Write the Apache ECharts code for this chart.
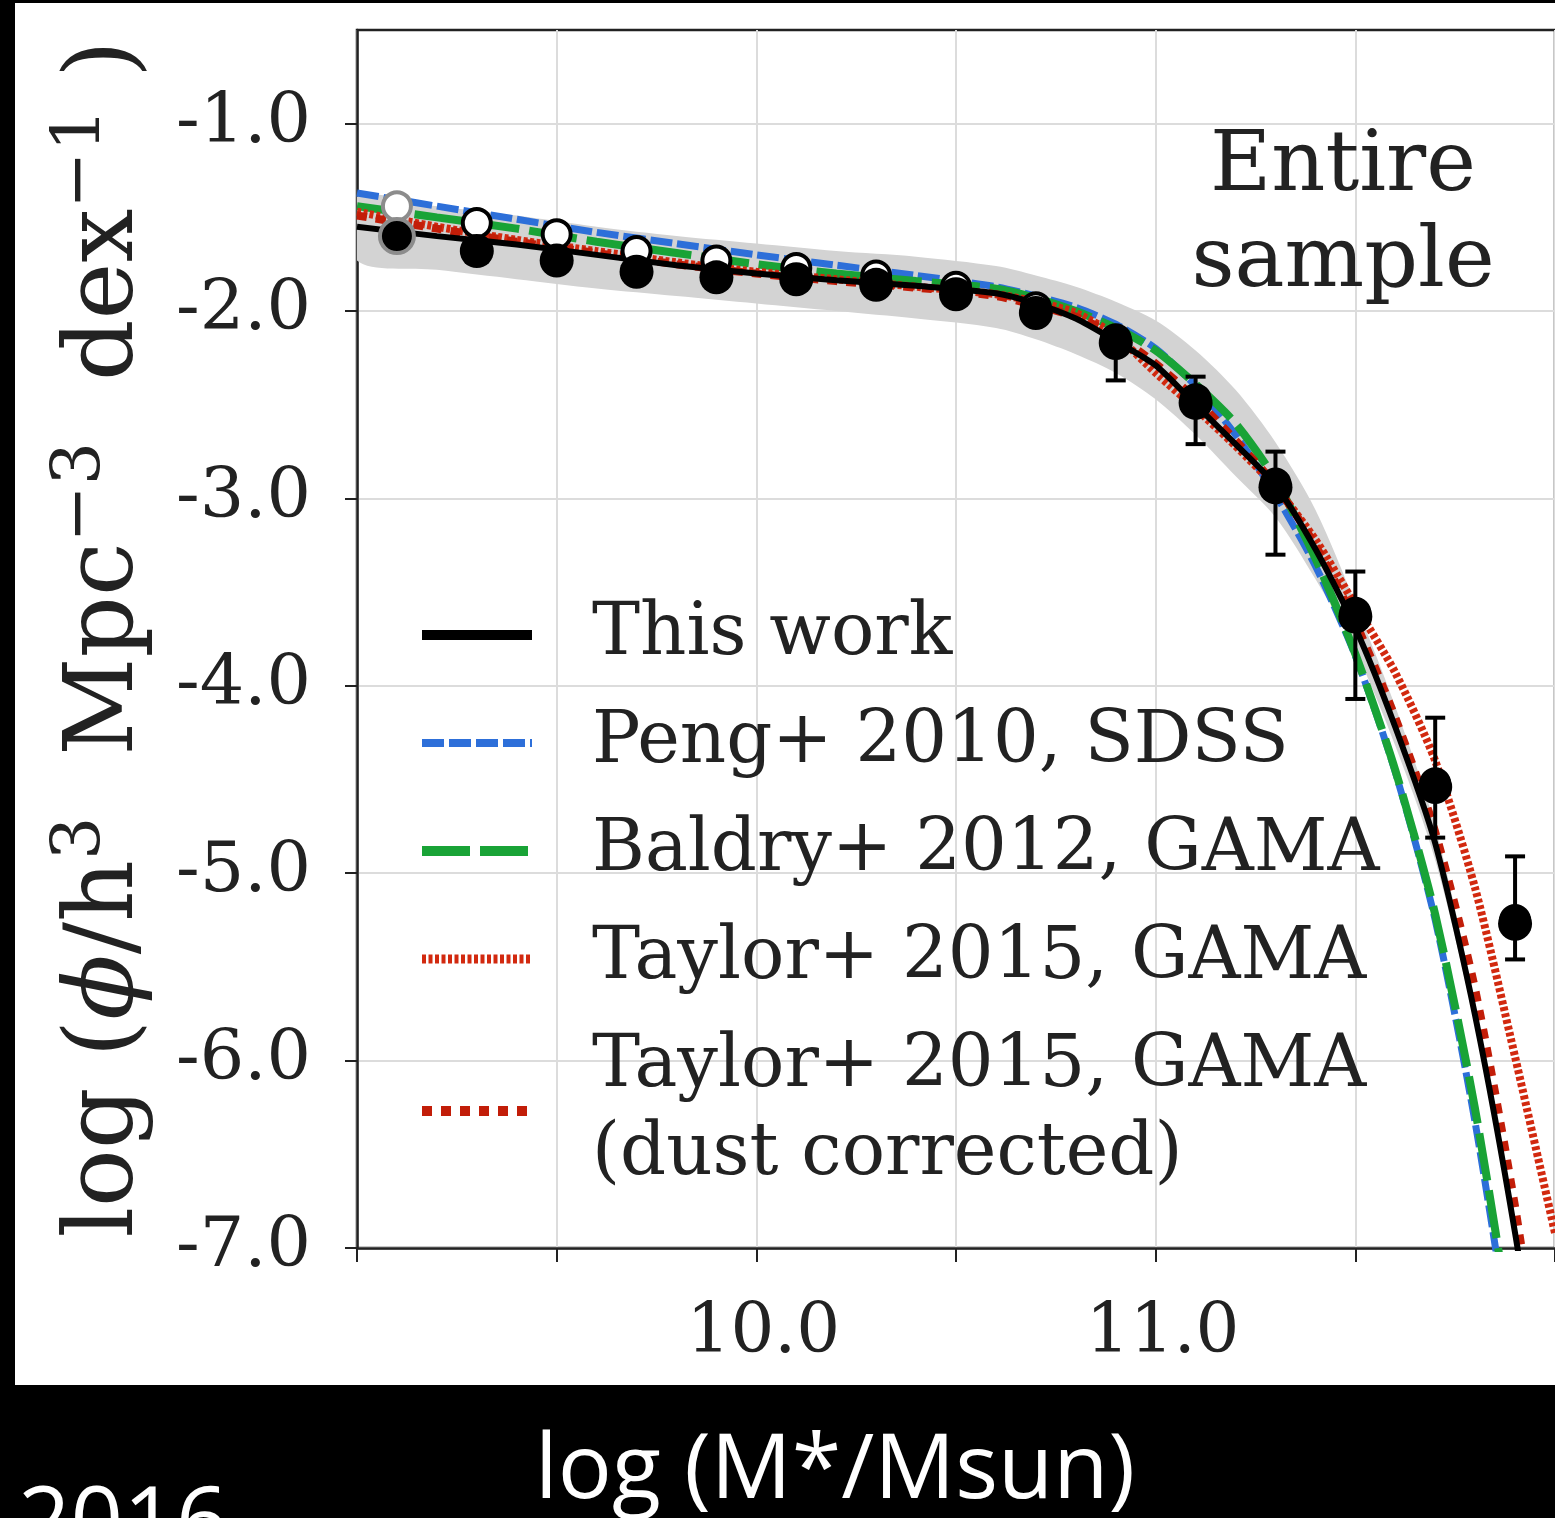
<!DOCTYPE html>
<html><head><meta charset="utf-8">
<script src="https://cdn.jsdelivr.net/npm/echarts@6/dist/echarts.min.js"></script>
<style>html,body{margin:0;padding:0;background:#000;overflow:hidden}#c{width:1555px;height:1518px}</style>
</head><body><div id="c"></div><script>
// ---- Data ----
const curveMass = [9.0, 9.2, 9.4, 9.6, 9.8, 10.0, 10.2, 10.4, 10.6, 10.7, 10.8, 10.9, 11.0, 11.1, 11.2, 11.3, 11.4, 11.5, 11.6, 11.7, 11.8, 11.9, 12.0];
const thisWork   = [-1.55, -1.60, -1.645, -1.70, -1.755, -1.80, -1.835, -1.865, -1.905, -1.96, -2.04, -2.16, -2.29, -2.50, -2.71, -2.93, -3.27, -3.69, -4.22, -4.84, -5.76, -6.92, -8.3];
const peng2010   = [-1.37, -1.44, -1.51, -1.58, -1.64, -1.70, -1.755, -1.81, -1.87, -1.92, -1.98, -2.07, -2.20, -2.40, -2.66, -2.98, -3.36, -3.84, -4.46, -5.25, -6.33, -7.7, -9.4];
const baldry2012 = [-1.44, -1.50, -1.56, -1.63, -1.69, -1.75, -1.80, -1.84, -1.88, -1.93, -2.00, -2.09, -2.21, -2.39, -2.60, -2.90, -3.32, -3.83, -4.45, -5.22, -6.26, -7.6, -9.3];
const taylor2015 = [-1.47, -1.55, -1.62, -1.68, -1.74, -1.79, -1.83, -1.87, -1.91, -1.95, -2.01, -2.13, -2.33, -2.52, -2.72, -2.94, -3.22, -3.57, -3.93, -4.40, -5.08, -5.98, -6.92];
const taylorDust = [-1.49, -1.56, -1.63, -1.69, -1.75, -1.80, -1.84, -1.875, -1.92, -1.97, -2.03, -2.13, -2.28, -2.47, -2.69, -2.93, -3.25, -3.66, -4.17, -4.78, -5.62, -6.78, -8.2];
const bandUpper  = [-1.39, -1.44, -1.49, -1.55, -1.60, -1.64, -1.68, -1.71, -1.76, -1.81, -1.87, -1.95, -2.05, -2.21, -2.42, -2.70, -3.06, -3.56, -4.11, -4.75, -5.70, -6.88, -8.2];
const bandLower  = [-1.73, -1.78, -1.83, -1.88, -1.92, -1.96, -2.00, -2.04, -2.09, -2.15, -2.23, -2.33, -2.47, -2.66, -2.88, -3.10, -3.43, -3.81, -4.32, -4.93, -5.82, -6.98, -8.4];

const pointMass   = [9.1, 9.3, 9.5, 9.7, 9.9, 10.1, 10.3, 10.5, 10.7, 10.9, 11.1, 11.3, 11.5, 11.7, 11.9];
const pointFilled = [-1.60, -1.68, -1.73, -1.79, -1.82, -1.83, -1.86, -1.91, -2.01, -2.17, -2.49, -2.94, -3.63, -4.54, -5.27];
const pointOpen   = [-1.44, -1.53, -1.59, -1.68, -1.73, -1.77, -1.81, -1.87, -1.98, -2.15, -2.47, -2.92, -3.61, -4.52, -5.25];
const errUpper    = [-1.58, -1.66, -1.71, -1.77, -1.80, -1.81, -1.84, -1.89, -1.99, -2.10, -2.35, -2.75, -3.39, -4.17, -4.91];
const errLower    = [-1.62, -1.70, -1.75, -1.81, -1.84, -1.85, -1.88, -1.93, -2.03, -2.37, -2.71, -3.30, -4.07, -4.81, -5.46];

const yTicks = [-7.0, -6.0, -5.0, -4.0, -3.0, -2.0, -1.0];
const xTicks = [9.0, 9.5, 10.0, 10.5, 11.0, 11.5, 12.0];
const xTickLabels = [10.0, 11.0];
const legendNames = ['This work', 'Peng+ 2010, SDSS', 'Baldry+ 2012, GAMA', 'Taylor+ 2015, GAMA', 'Taylor+ 2015, GAMA\n(dust corrected)'];

// ---- Build ----
const pair = (xs, ys) => xs.map((x, i) => [x, ys[i]]);
const SERIF = '"DejaVu Serif", serif';
const chart = echarts.init(document.getElementById('c'), null, {renderer: 'canvas'});

function lineSeries(name, ys, color, width, dash, z) {
  return {
    name, type: 'line', data: pair(curveMass, ys), symbol: 'none', smooth: 0.25, z,
    lineStyle: {color, width, type: dash, cap: 'butt'}, itemStyle: {color},
    emphasis: {disabled: true}, animation: false
  };
}

const legendWidths = [10, 8, 10, 9, 10];

const option = {
  animation: false,
  backgroundColor: '#000',
  graphic: [
    {type: 'rect', z: -100, shape: {x: 15, y: 3, width: 1545, height: 1382}, style: {fill: '#fff'}},
    {type: 'text', z: 10, x: 1343, y: 120, style: {text: 'Entire\nsample', fill: '#222', fontSize: 84, fontFamily: SERIF, lineHeight: 96, textAlign: 'center', align: 'center', textVerticalAlign: 'top', verticalAlign: 'top'}},
    {type: 'text', z: 10, x: 835, y: 1472, style: {text: 'log (M*/Msun)', fill: '#fff', fontSize: 90, fontFamily: '"Open Sans", sans-serif', textAlign: 'center', align: 'center', textVerticalAlign: 'middle', verticalAlign: 'middle'}},
    {type: 'text', z: 10, x: 18, y: 1526, style: {text: '2016', fill: '#fff', fontSize: 92, fontFamily: '"Open Sans", sans-serif', textAlign: 'left', align: 'left', textVerticalAlign: 'middle', verticalAlign: 'middle'}}
  ],
  grid: {left: 357, top: 30, width: 1200, height: 1218, show: true, borderColor: '#222', borderWidth: 2.5, backgroundColor: 'transparent'},
  legend: {
    orient: 'vertical', left: 417, top: 591, padding: 0, itemGap: 20, itemWidth: 110, itemHeight: 14,
    selectedMode: false,
    itemStyle: {opacity: 0, borderWidth: 0},
    data: legendNames.map((n, i) => ({name: n, lineStyle: {width: legendWidths[i]}, itemStyle: {opacity: 0, borderWidth: 0}})),
    textStyle: {fontFamily: SERIF, fontSize: 72, color: '#222', lineHeight: 88, padding: [0, 0, 0, 55]}
  },
  xAxis: {
    type: 'value', min: 9.0, max: 12.0, interval: 0.5,
    axisLine: {show: true, lineStyle: {color: '#222', width: 2.5}},
    axisTick: {show: true, length: 14, customValues: xTicks, lineStyle: {color: '#222', width: 2}},
    splitLine: {show: true, lineStyle: {color: '#dcdcdc', width: 2}},
    axisLabel: {margin: 52, fontFamily: SERIF, fontSize: 69, color: '#222', padding: [0, 0, 0, 14],
      customValues: xTickLabels,
      formatter: v => xTickLabels.some(t => Math.abs(t - v) < 1e-6) ? v.toFixed(1) : ''}
  },
  yAxis: {
    type: 'value', min: -7, max: -0.5, interval: 1,
    axisLine: {show: true, lineStyle: {color: '#222', width: 2.5}},
    axisTick: {show: true, length: 12, customValues: yTicks, lineStyle: {color: '#222', width: 2}},
    splitLine: {show: true, lineStyle: {color: '#dcdcdc', width: 2}},
    axisLabel: {margin: 46, fontFamily: SERIF, fontSize: 70, color: '#222', customValues: yTicks,
      formatter: v => yTicks.some(t => Math.abs(t - v) < 1e-6) ? v.toFixed(1) : ''},
    name: '{a|log (}{i|ϕ}{a|/h}{s|3}{a|  Mpc}{s|−3}{a|  dex}{s|−1}{a| )}',
    nameLocation: 'middle', nameRotate: 90, nameGap: 190,
    nameTextStyle: {
      color: '#222', fontFamily: SERIF, fontSize: 96,
      rich: {
        a: {fontFamily: SERIF, fontSize: 96, color: '#222', lineHeight: 120},
        i: {fontFamily: SERIF, fontSize: 96, fontStyle: 'italic', color: '#222', lineHeight: 120},
        s: {fontFamily: SERIF, fontSize: 68, color: '#222', verticalAlign: 'top', lineHeight: 120}
      }
    }
  },
  series: [
    {
      name: 'band', type: 'custom', z: 1, silent: true, clip: true,
      data: curveMass.map((x, i) => [x, bandLower[i], bandUpper[i]]),
      renderItem: (params, api) => {
        if (params.dataIndex !== 0) return null;
        const up = curveMass.map((x, i) => api.coord([x, bandUpper[i]]));
        const lo = curveMass.map((x, i) => api.coord([x, bandLower[i]])).reverse();
        return {type: 'polygon', shape: {points: up.concat(lo), smooth: 0.3}, style: {fill: '#d3d3d3'}};
      }
    },
    lineSeries(legendNames[1], peng2010, '#2d6fd9', 7, [22, 5], 3),
    lineSeries(legendNames[2], baldry2012, '#19a336', 8, [48, 10], 3),
    lineSeries(legendNames[3], taylor2015, '#d2290f', 8, [4, 2.5], 4),
    lineSeries(legendNames[4], taylorDust, '#c21d08', 8, [10, 9], 4),
    lineSeries(legendNames[0], thisWork, '#000', 6, 'solid', 5),
    {
      name: 'errors', type: 'custom', z: 6, silent: true,
      data: pointMass.map((x, i) => [x, errLower[i], errUpper[i]]),
      renderItem: (params, api) => {
        const x = api.value(0);
        const pl = api.coord([x, api.value(1)]);
        const ph = api.coord([x, api.value(2)]);
        const w = 10, st = {stroke: '#000', lineWidth: 4};
        return {type: 'group', children: [
          {type: 'line', shape: {x1: pl[0], y1: pl[1], x2: ph[0], y2: ph[1]}, style: st},
          {type: 'line', shape: {x1: pl[0] - w, y1: pl[1], x2: pl[0] + w, y2: pl[1]}, style: st},
          {type: 'line', shape: {x1: ph[0] - w, y1: ph[1], x2: ph[0] + w, y2: ph[1]}, style: st}
        ]};
      }
    },
    {name: 'open', type: 'scatter', z: 7, symbolSize: 28, silent: true,
     data: pair(pointMass, pointOpen).map((d, i) => i === 0 ? {value: d, itemStyle: {borderColor: '#8c8c8c'}} : d),
     itemStyle: {color: '#fff', borderColor: '#000', borderWidth: 4, opacity: 1}},
    {name: 'filled', type: 'scatter', z: 8, symbolSize: 34, silent: true,
     data: pair(pointMass, pointFilled).map((d, i) => i === 0 ? {value: d, itemStyle: {borderColor: '#8c8c8c', borderWidth: 4}} : d),
     itemStyle: {color: '#000', borderColor: '#000', borderWidth: 0, opacity: 1}}
  ]
};
chart.setOption(option);
</script></body></html>
